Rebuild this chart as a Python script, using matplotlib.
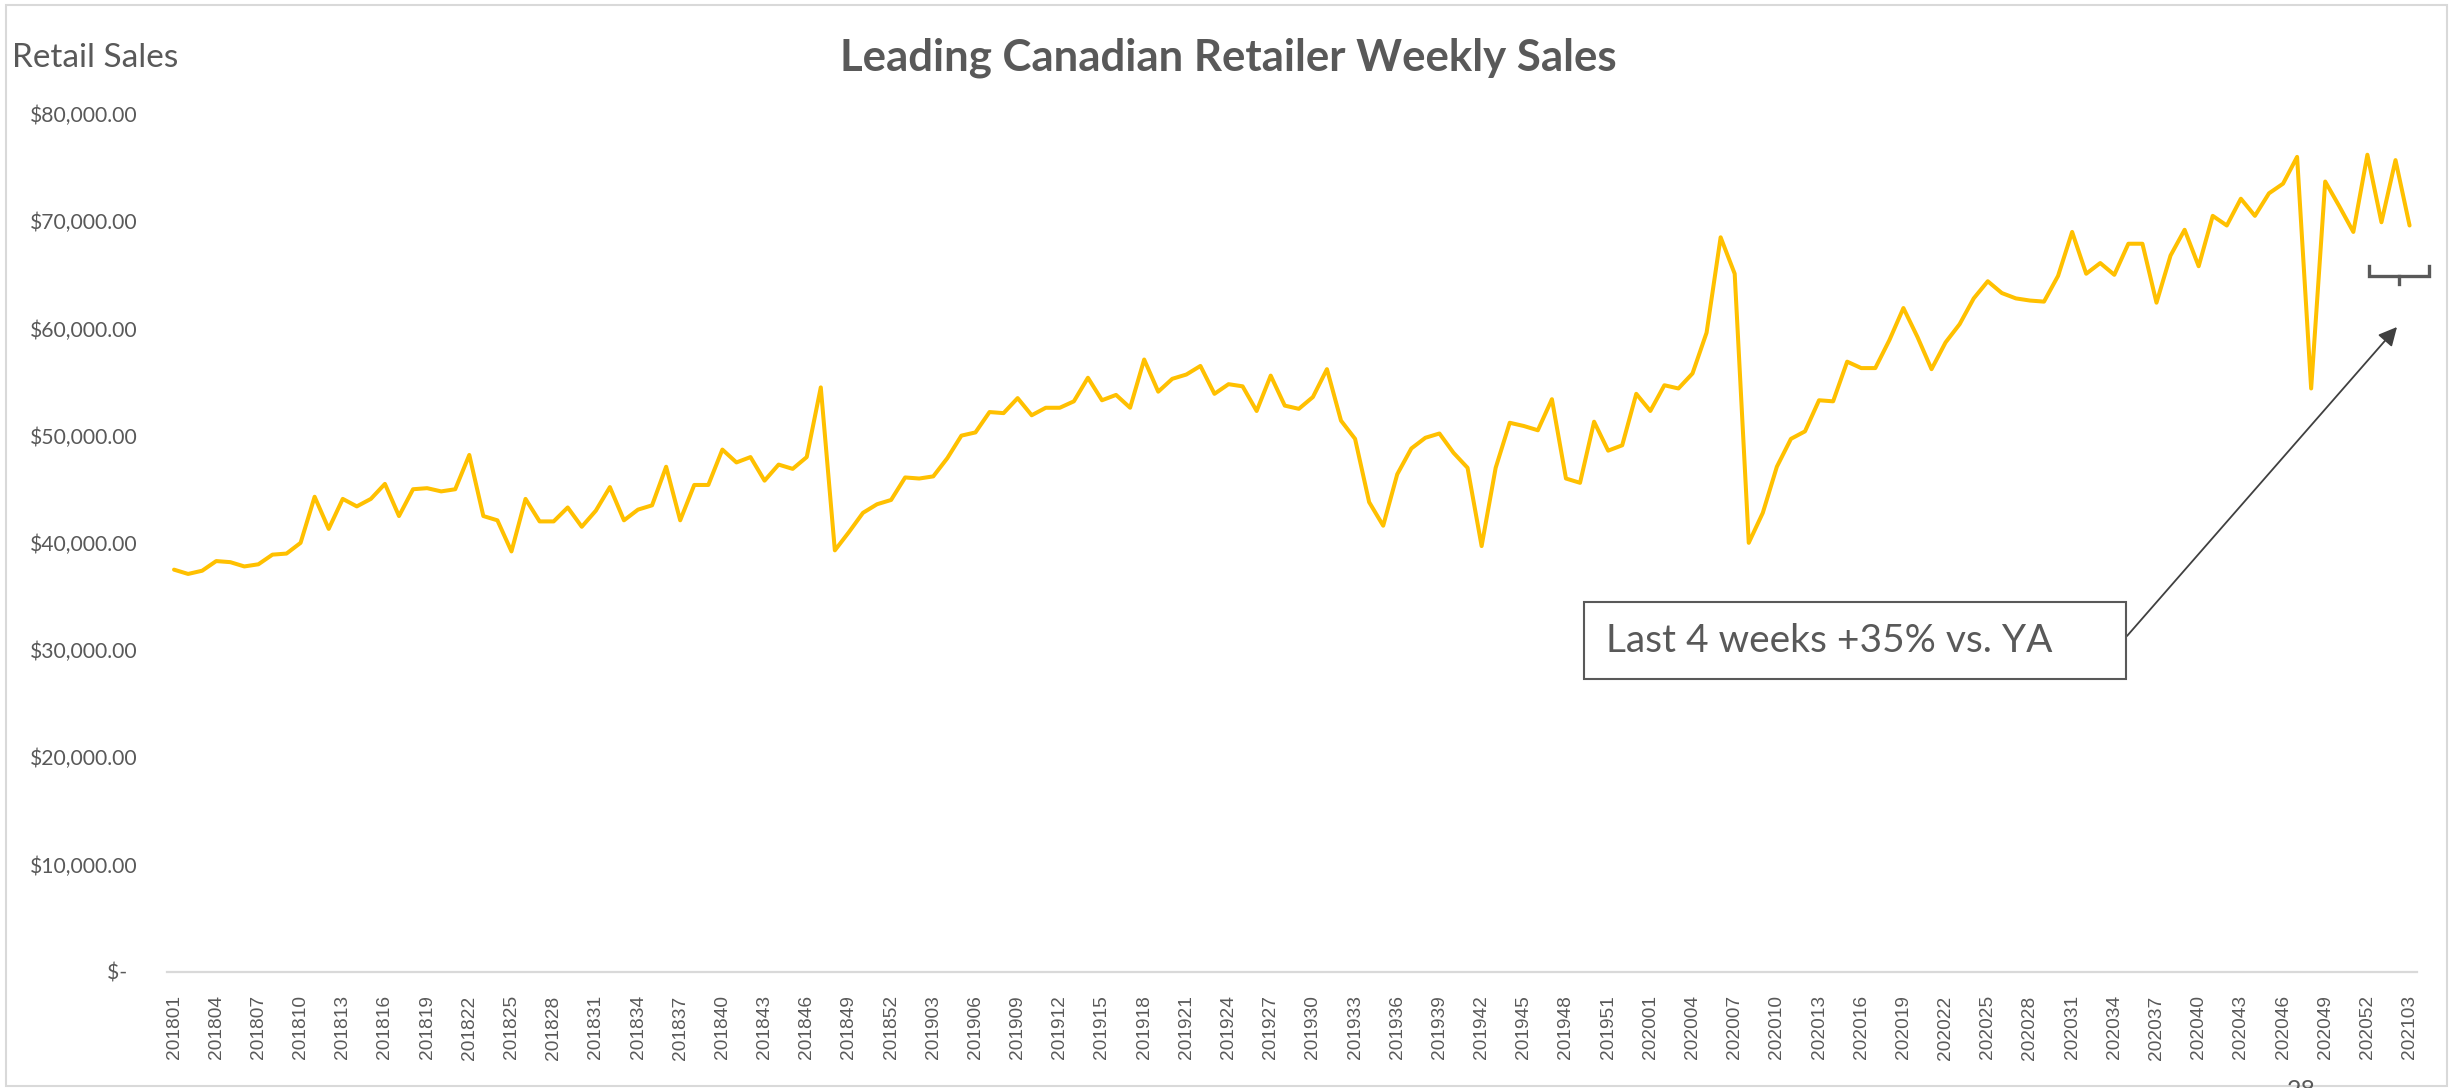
import matplotlib
matplotlib.use("Agg")
import matplotlib.pyplot as plt
from matplotlib.ticker import FuncFormatter
from matplotlib.patches import Rectangle
from matplotlib.lines import Line2D

# ---------------- data ----------------
years = [2018, 2019, 2020, 2021]
weeks_per_year = [52, 53, 52, 3]

sales = [
    37500, 37100, 37400, 38300, 38200, 37800, 38000, 38900, 39000, 40000,
    44300, 41300, 44100, 43400, 44100, 45500, 42500, 45000, 45100, 44800,
    45000, 48200, 42500, 42100, 39200, 44100, 42000, 42000, 43300, 41500,
    43000, 45200, 42100, 43100, 43500, 47100, 42100, 45400, 45400, 48700,
    47500, 48000, 45800, 47300, 46900, 48000, 54500, 39300, 41000, 42800,
    43600, 44000, 46100, 46000, 46200, 47900, 50000, 50300, 52200, 52100,
    53500, 51900, 52600, 52600, 53200, 55400, 53300, 53800, 52600, 57100,
    54100, 55300, 55700, 56500, 53900, 54800, 54600, 52300, 55600, 52800,
    52500, 53600, 56200, 51400, 49700, 43800, 41600, 46400, 48800, 49800,
    50200, 48400, 47000, 39700, 47000, 51200, 50900, 50500, 53400, 46000,
    45600, 51300, 48600, 49100, 53900, 52300, 54700, 54400, 55800, 59600,
    68500, 65100, 40000, 42800, 47100, 49700, 50400, 53300, 53200, 56900,
    56300, 56300, 58900, 61900, 59200, 56200, 58700, 60400, 62800, 64400,
    63300, 62800, 62600, 62500, 64900, 69000, 65100, 66100, 65000, 67900,
    67900, 62400, 66800, 69200, 65800, 70500, 69600, 72100, 70500, 72600,
    73500, 76000, 54400, 73700, 71400, 69000, 76200, 69900, 75700, 69600,
]

week_labels = [f"{y}{w:02d}" for y, n in zip(years, weeks_per_year) for w in range(1, n + 1)]

title = "Leading Canadian Retailer Weekly Sales"
y_title = "Retail Sales"
callout = "Last 4 weeks +35% vs. YA"

# ---------------- figure ----------------
W, H = 2453, 1088
fig = plt.figure(figsize=(W / 100, H / 100), dpi=100)
fig.patch.set_facecolor("white")

grey = "#595959"
ax_left, ax_right, ax_top, ax_bottom = 167, 2416.6, 114, 971.7
ax = fig.add_axes([ax_left / W, 1 - ax_bottom / H, (ax_right - ax_left) / W, (ax_bottom - ax_top) / H])
ax.set_facecolor("none")

x = list(range(len(sales)))
ax.plot(x, sales, color="#FFC000", lw=2.9, solid_joinstyle="round", solid_capstyle="round")

ax.set_xlim(-0.5, len(sales) - 0.5)
ax.set_ylim(0, 80000)

tick_idx = list(range(0, len(sales), 3))
ax.set_xticks(tick_idx)
ax.set_xticklabels([week_labels[i] for i in tick_idx], rotation=90,
                   fontfamily="Liberation Sans", fontsize=13.8, color=grey, va="top")
ax.tick_params(axis="x", length=0, pad=17)

ax.set_yticks(range(0, 80001, 10000))


def fmt(v, pos):
    if v == 0:
        return "$-  "
    return f"${v:,.2f}"


ax.yaxis.set_major_formatter(FuncFormatter(fmt))
ax.tick_params(axis="y", length=0, pad=21, labelsize=15.2, labelcolor=grey)
for lab in ax.get_yticklabels():
    lab.set_fontfamily("Lato")

for s in ["top", "right", "left"]:
    ax.spines[s].set_visible(False)
ax.spines["bottom"].set_color("#D9D9D9")
ax.spines["bottom"].set_linewidth(1.6)

# titles
fig.text(1228 / W, 1 - 58 / H, title, ha="center", va="center", fontfamily="Lato",
         fontweight="bold", fontsize=31.5, color=grey)
fig.text(12 / W, 1 - 58 / H, y_title, ha="left", va="center", fontfamily="Lato",
         fontsize=24, color=grey)

# callout box
bx0, bx1, by0, by1 = 1584, 2126, 602, 679
fig.add_artist(Rectangle((bx0 / W, 1 - by1 / H), (bx1 - bx0) / W, (by1 - by0) / H,
                         transform=fig.transFigure, facecolor="white", edgecolor=grey, lw=1.5))
fig.text((bx0 + 22) / W, 1 - (by0 + by1) / 2 / H, callout, ha="left", va="center",
         fontfamily="Lato", fontsize=28, color=grey)

# arrow
ax.annotate("", xy=(2397, H - 327), xycoords="figure pixels",
            xytext=(2127, H - 636), textcoords="figure pixels",
            arrowprops=dict(arrowstyle="-|>", color="#404040", lw=1.3,
                            mutation_scale=28, shrinkA=0, shrinkB=0))

# bracket
def fp(px, py):
    return px / W, 1 - py / H

xs, ys = zip(*[fp(2369, 266), fp(2369, 275.5), fp(2429, 275.5), fp(2429, 266)])
fig.add_artist(Line2D(xs, ys, transform=fig.transFigure, color=grey, lw=2.4,
                      solid_joinstyle="miter"))
xs, ys = zip(*[fp(2399, 275.5), fp(2399, 284)])
fig.add_artist(Line2D(xs, ys, transform=fig.transFigure, color=grey, lw=2.4))

# outer chart border
fig.add_artist(Rectangle((6 / W, 2 / H), (W - 12) / W, (H - 7) / H, transform=fig.transFigure,
                         fill=False, edgecolor="#D9D9D9", lw=1.5))

# page number (cut off at bottom, as in the source slide)
fig.text(2301 / W, 9 / H, "28", ha="center", va="top", fontfamily="Lato",
         fontsize=18, color=grey)

fig.savefig("out.png", dpi=100, facecolor="white")
